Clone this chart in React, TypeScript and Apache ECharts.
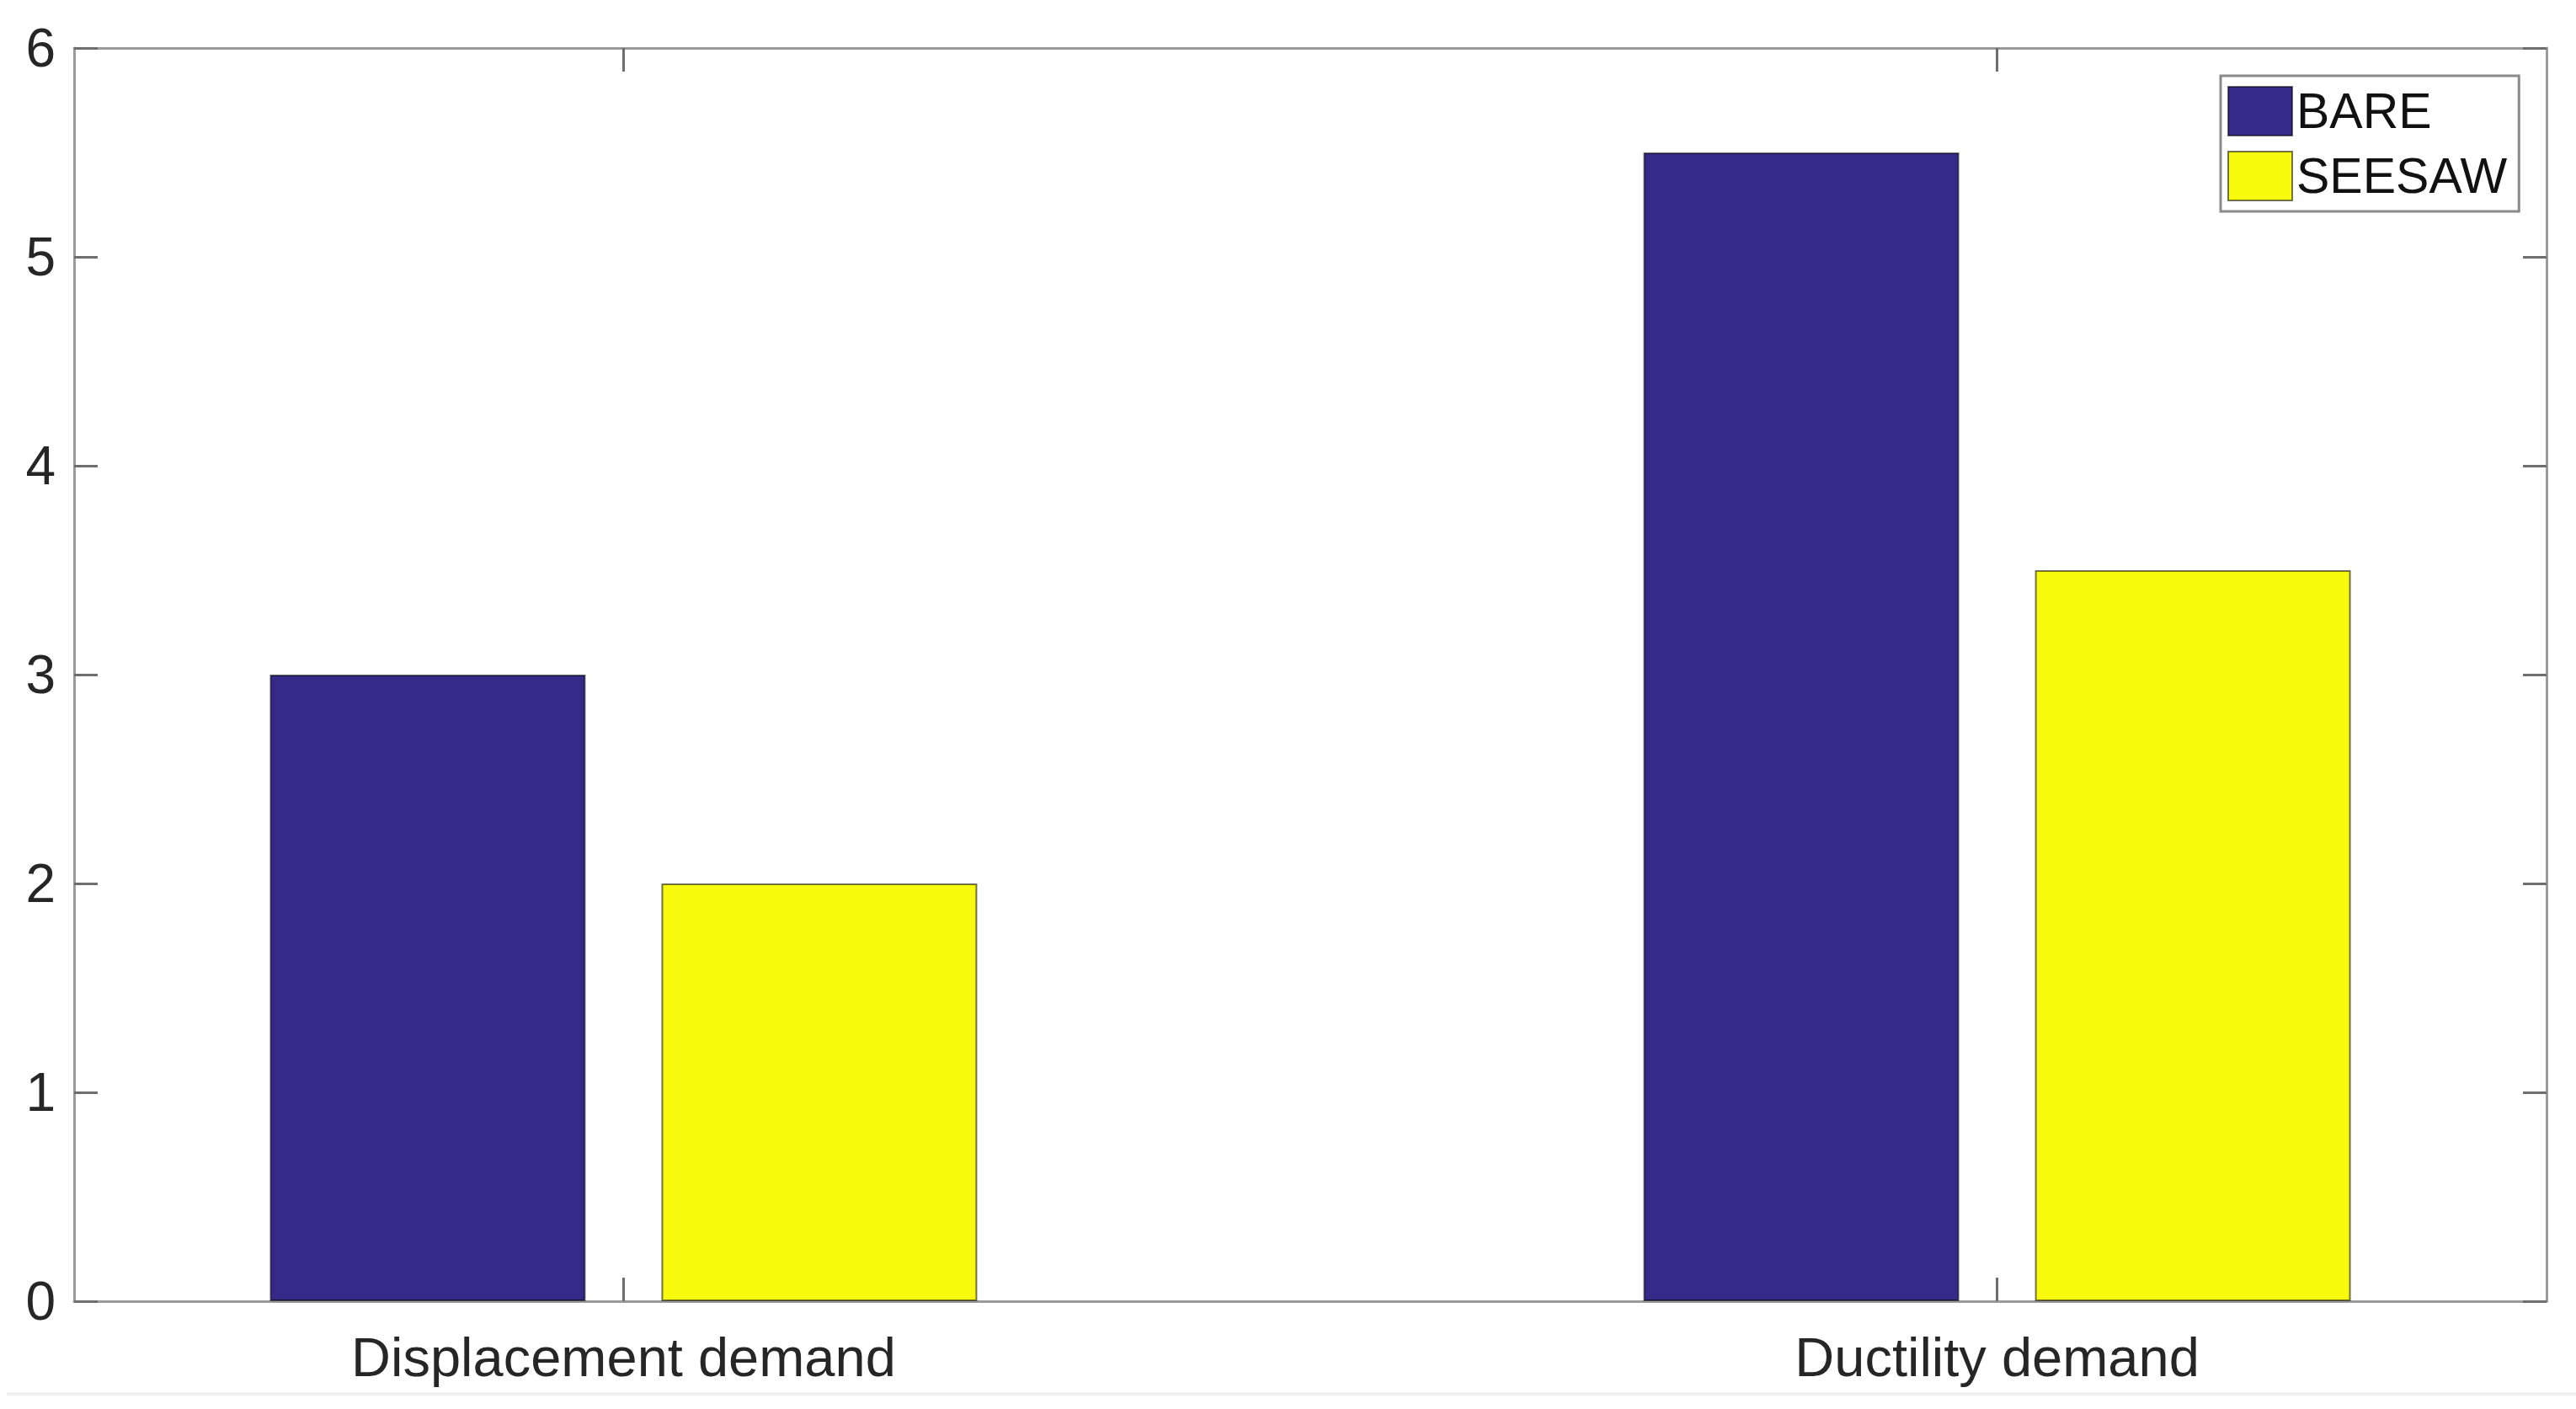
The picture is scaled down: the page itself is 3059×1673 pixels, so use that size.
import React, { useEffect, useRef } from "react";
import * as echarts from "echarts";

const categories = ["Displacement demand", "Ductility demand"];
const categoryPositions = [1, 2];
const seriesNames = ["BARE", "SEESAW"];
const bareValues = [3, 5.5];
const seesawValues = [2, 3.5];
const yTicks = [0, 1, 2, 3, 4, 5, 6];

const FONT = "'Liberation Sans', Arial, Helvetica, sans-serif";
const AXIS_COLOR = "#9a9a9a";
const TICK_COLOR = "#6e6e6e";

export default function App() {
  const ref = useRef<HTMLDivElement>(null);
  useEffect(() => {
    document.body.style.margin = "0";
    if (!ref.current) return;
    const chart = echarts.init(ref.current, undefined, { renderer: "svg" });
    const lineStyle = { color: AXIS_COLOR, width: 3 };
    const tickStyle = { color: TICK_COLOR, width: 3 };
    chart.setOption({
      animation: false,
      backgroundColor: "#ffffff",
      grid: {
        left: 88,
        top: 57,
        right: 35,
        bottom: 128,
        containLabel: false,
        outerBoundsMode: "none",
        show: false,
      },
      legend: {
        orient: "vertical",
        left: 2637,
        top: 90,
        padding: [12, 14, 12, 8],
        itemWidth: 76,
        itemHeight: 58,
        itemGap: 17,
        borderColor: "#8a8a8a",
        borderWidth: 3,
        backgroundColor: "#ffffff",
        icon: "rect",
        data: seriesNames,
        textStyle: { fontFamily: FONT, fontSize: 59, color: "#111111" },
      },
      xAxis: [
        {
          type: "value",
          min: 0.6,
          max: 2.4,
          position: "bottom",
          splitLine: { show: false },
          axisLine: { show: true, onZero: false, lineStyle },
          axisTick: {
            show: true,
            inside: true,
            length: 28,
            lineStyle: tickStyle,
            customValues: categoryPositions,
          },
          axisLabel: {
            show: true,
            customValues: categoryPositions,
            formatter: (v: number) => categories[categoryPositions.indexOf(Math.round(v))] ?? "",
            fontFamily: FONT,
            fontSize: 65,
            lineHeight: 65,
            color: "#262626",
            margin: 34,
          },
        },
        {
          type: "value",
          min: 0.6,
          max: 2.4,
          position: "top",
          splitLine: { show: false },
          axisLine: { show: true, onZero: false, lineStyle },
          axisTick: {
            show: true,
            inside: true,
            length: 28,
            lineStyle: tickStyle,
            customValues: categoryPositions,
          },
          axisLabel: { show: false },
        },
      ],
      yAxis: [
        {
          type: "value",
          min: 0,
          max: 6,
          interval: 1,
          position: "left",
          splitLine: { show: false },
          axisLine: { show: true, onZero: false, lineStyle },
          axisTick: { show: true, inside: true, length: 28, lineStyle: tickStyle },
          axisLabel: {
            show: true,
            customValues: yTicks,
            fontFamily: FONT,
            fontSize: 64,
            color: "#262626",
            margin: 22,
          },
        },
        {
          type: "value",
          min: 0,
          max: 6,
          interval: 1,
          position: "right",
          splitLine: { show: false },
          axisLine: { show: true, onZero: false, lineStyle },
          axisTick: { show: true, inside: true, length: 28, lineStyle: tickStyle },
          axisLabel: { show: false },
        },
      ],
      series: [
        {
          name: seriesNames[0],
          type: "bar",
          xAxisIndex: 0,
          yAxisIndex: 0,
          barWidth: 375,
          barGap: "24%",
          data: categoryPositions.map((x, i) => [x, bareValues[i]]),
          itemStyle: { color: "#352A87", borderColor: "rgba(0,0,0,0.55)", borderWidth: 2 },
        },
        {
          name: seriesNames[1],
          type: "bar",
          xAxisIndex: 0,
          yAxisIndex: 0,
          barWidth: 375,
          barGap: "24%",
          data: categoryPositions.map((x, i) => [x, seesawValues[i]]),
          itemStyle: { color: "#F9FB0E", borderColor: "rgba(0,0,0,0.55)", borderWidth: 2 },
        },
      ],
      graphic: [
        {
          type: "rect",
          shape: { x: 8, y: 1653, width: 3051, height: 4 },
          style: { fill: "#f0f0f0" },
          silent: true,
        },
      ],
    });
    return () => chart.dispose();
  }, []);
  return <div ref={ref} style={{ width: 3059, height: 1673 }} />;
}
